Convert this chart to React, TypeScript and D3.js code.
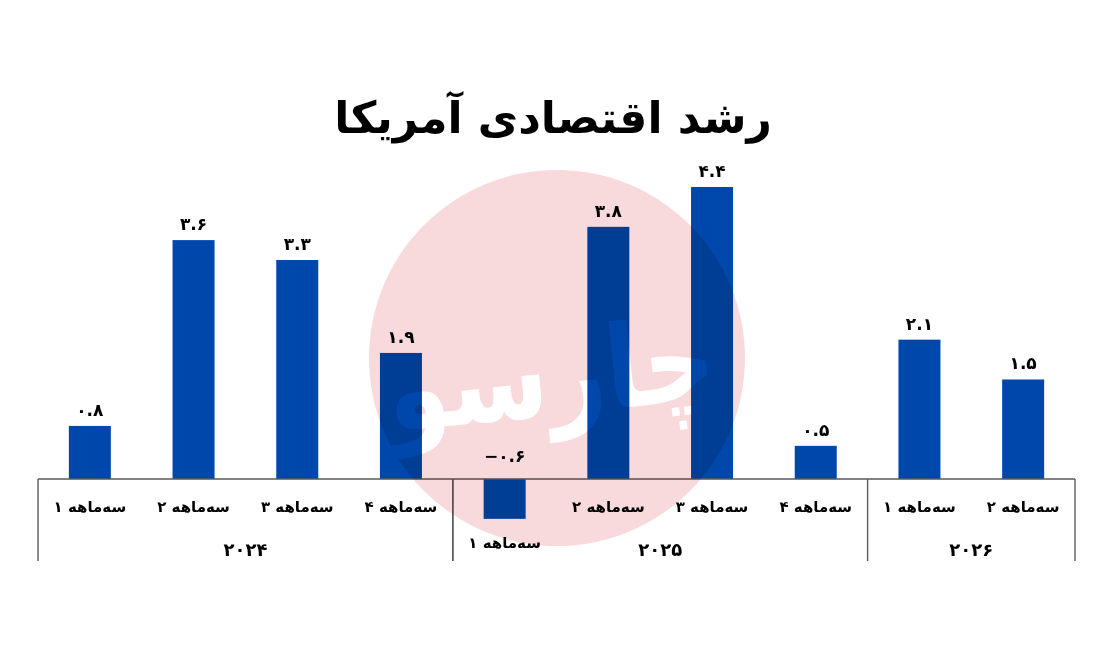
import React from "react";
import * as d3 from "d3";

const TITLE = "رشد اقتصادی آمریکا";
const years = ["2024", "2025", "2026"];
const categoryYear = ["2024", "2024", "2024", "2024", "2025", "2025", "2025", "2025", "2026", "2026"];
const categoryQuarter = [1, 2, 3, 4, 1, 2, 3, 4, 1, 2];
const values = [0.8, 3.6, 3.3, 1.9, -0.6, 3.8, 4.4, 0.5, 2.1, 1.5];
const quarterPrefix = "سه‌ماهه";
const watermarkText = "چارسو";

const W = 1113;
const H = 646;
const BAR = "#0047ab";
const AXIS = "#5a5a5a";
const FONT = "'DejaVu Sans', 'Noto Sans', sans-serif";

const fa = (s: string) => s.replace(/[0-9]/g, (d) => "۰۱۲۳۴۵۶۷۸۹"[+d]).replace("-", "−");

export default function App() {
  const idx = values.map((_, i) => i);
  const x = d3.scaleBand<number>().domain(idx).range([38, 1075]).paddingInner(0.595).paddingOuter(0.2975);
  const y = d3.scaleLinear().domain([-1, 5]).range([545.4, 147.2]);
  const y0 = y(0);
  const step = x.step();
  const bw = x.bandwidth();
  const cx = (i: number) => (x(i) as number) + bw / 2;
  const slotLeft = (i: number) => cx(i) - step / 2;
  const slotRight = (i: number) => cx(i) + step / 2;

  const groups = years.map((yr) => {
    const members = idx.filter((i) => categoryYear[i] === yr);
    return { yr, left: slotLeft(members[0]), right: slotRight(members[members.length - 1]) };
  });
  const seps = Array.from(new Set(groups.flatMap((g) => [g.left, g.right])));
  const sepBottom = 561;

  return (
    <svg width={W} height={H} viewBox={`0 0 ${W} ${H}`} style={{ position: "absolute", left: 0, top: 0, background: "#fff" }} fontFamily={FONT}>
      <rect x={0} y={0} width={W} height={H} fill="#fff" />
      <text x={553} y={133} textAnchor="middle" fontSize={44} fontWeight="bold" fill="#000" direction="rtl">
        {TITLE}
      </text>

      {idx.map((i) => {
        const v = values[i];
        return (
          <rect key={"b" + i} x={x(i)} y={Math.min(y(v), y0)} width={bw} height={Math.abs(y(v) - y0)} fill={BAR} />
        );
      })}

      <line x1={38} x2={1075} y1={y0} y2={y0} stroke={AXIS} strokeWidth={1.6} />
      {seps.map((s, k) => (
        <line key={"s" + k} x1={s} x2={s} y1={y0} y2={sepBottom} stroke={AXIS} strokeWidth={1.4} />
      ))}

      <g style={{ mixBlendMode: "multiply" }}>
        <circle cx={557} cy={358} r={188} fill="#f8dadd" />
        <text x={550} y={415} textAnchor="middle" fontSize={115} fontWeight="bold" fill="#ffffff" direction="rtl"
          textLength={330} lengthAdjust="spacingAndGlyphs" transform="rotate(-6 550 370)">
          {watermarkText}
        </text>
      </g>

      {idx.map((i) => {
        const v = values[i];
        const ly = v >= 0 ? y(v) - 10 : y0 - 17;
        return (
          <text key={"v" + i} x={cx(i)} y={ly} textAnchor="middle" fontSize={17} fontWeight="bold" fill="#000" direction="ltr">
            {fa(v.toFixed(1))}
          </text>
        );
      })}

      {idx.map((i) => {
        const ly = values[i] < 0 ? y(values[i]) + 29 : 512;
        return (
          <text key={"q" + i} x={cx(i)} y={ly} textAnchor="middle" fontSize={15} fontWeight="bold" fill="#000" direction="rtl">
            {quarterPrefix + " " + fa(String(categoryQuarter[i]))}
          </text>
        );
      })}

      {groups.map((g) => (
        <text key={"y" + g.yr} x={(g.left + g.right) / 2} y={556} textAnchor="middle" fontSize={18} fontWeight="bold" fill="#000">
          {fa(g.yr)}
        </text>
      ))}
    </svg>
  );
}
